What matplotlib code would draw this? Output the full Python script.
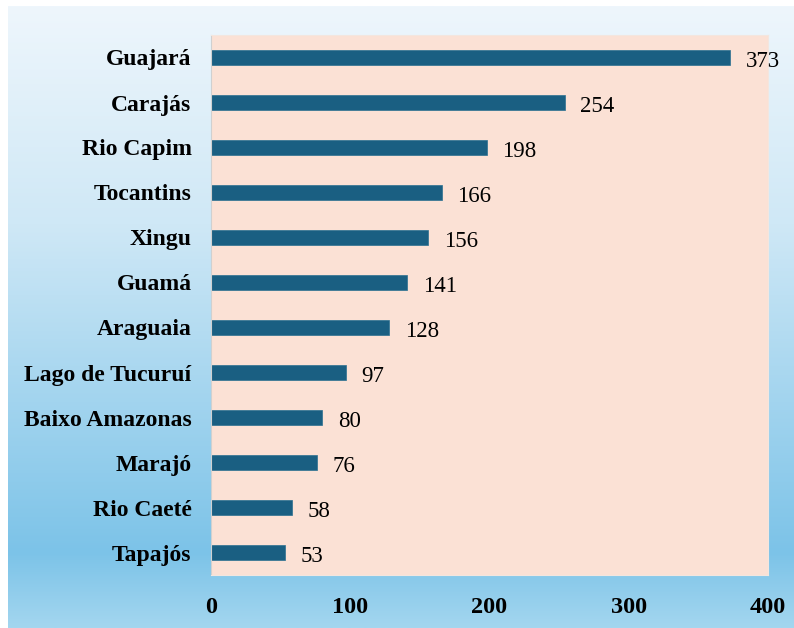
import matplotlib.pyplot as plt
import numpy as np
from matplotlib.colors import LinearSegmentedColormap

regioes = ['Guajará', 'Carajás', 'Rio Capim', 'Tocantins', 'Xingu', 'Guamá',
           'Araguaia', 'Lago de Tucuruí', 'Baixo Amazonas', 'Marajó',
           'Rio Caeté', 'Tapajós']
valores = [373, 254, 198, 166, 156, 141, 128, 97, 80, 76, 58, 53]
ticks_x = [0, 100, 200, 300, 400]

fig = plt.figure(figsize=(7.94, 6.28), dpi=100)

# fundo em degradê
fundo = fig.add_axes([8 / 794, 0, 1 - 8 / 794, 1 - 6 / 628], zorder=0)
cmap = LinearSegmentedColormap.from_list('fundo', [
    (0.0, '#eef6fc'), (0.35, '#cfe8f6'), (0.88, '#7cc3e8'), (1.0, '#a3d6ef')])
grad = np.linspace(0, 1, 256).reshape(-1, 1)
fundo.imshow(grad, aspect='auto', cmap=cmap, extent=[0, 1, 1, 0])
fundo.axis('off')

ax = fig.add_axes([211 / 794, 1 - 575 / 628, 557 / 794, 540 / 628], zorder=1)
ax.set_facecolor('#fbe1d5')
y = np.arange(len(regioes))
ax.barh(y, valores, height=0.34, color='#1a5f82', edgecolor='#2a7090', linewidth=0.5)
for yi, v in zip(y, valores):
    ax.text(v + 11, yi + 0.08, str(v), va='center', ha='left', fontsize=16.5,
            family='Liberation Serif', clip_on=False)

ax.set_ylim(len(regioes) - 0.5, -0.5)
ax.set_xlim(0, 400)
ax.set_yticks(y)
ax.set_yticklabels(regioes, family='Liberation Serif', fontweight='bold', fontsize=17)
ax.set_xticks(ticks_x)
ax.set_xticklabels([str(t) for t in ticks_x], family='Liberation Serif',
                   fontweight='bold', fontsize=17.5)
ax.tick_params(length=0)
ax.tick_params(axis='y', pad=14)
ax.tick_params(axis='x', pad=16)
for s in ['top', 'right', 'bottom']:
    ax.spines[s].set_color('#f3e6df')
ax.spines['left'].set_color('#d0d0d0')

fig.savefig('out.png', dpi=100)
